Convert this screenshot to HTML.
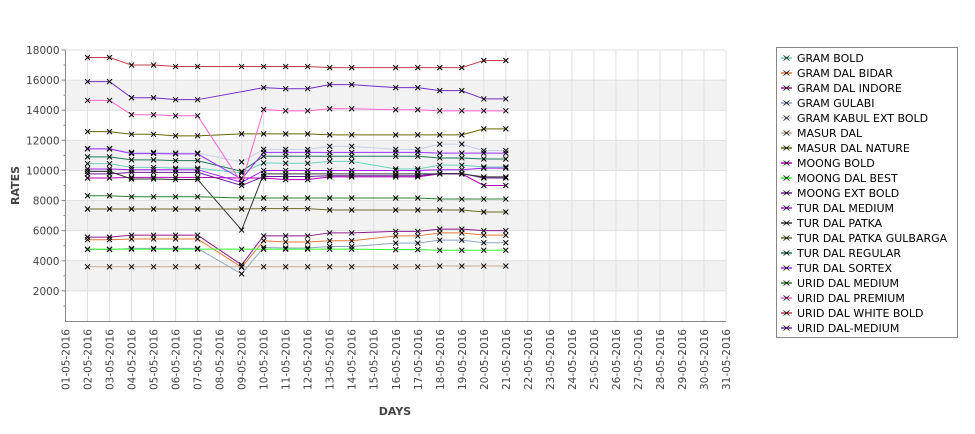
<!DOCTYPE html>
<html><head><meta charset="utf-8"><style>
body{margin:0;background:#fff;}
svg text{font-family:"DejaVu Sans","Liberation Sans",sans-serif;}
</style></head><body>
<svg id="chart" width="975" height="429" xmlns="http://www.w3.org/2000/svg">
<g id="bands"></g><g id="grid"></g><g id="axes"></g><g id="series"></g><g id="legend"></g>
</svg>
<script>
const days = [2,3,4,5,6,7,9,10,11,12,13,14,16,17,18,19,20,21];
const xTickLabels = Array.from({length:31},(_, i)=>String(i+1).padStart(2,'0')+'-05-2016');
const yTicks = [2000,4000,6000,8000,10000,12000,14000,16000,18000];
const seriesNames = ["GRAM BOLD","GRAM DAL BIDAR","GRAM DAL INDORE","GRAM GULABI","GRAM KABUL EXT BOLD","MASUR DAL","MASUR DAL NATURE","MOONG BOLD","MOONG DAL BEST","MOONG EXT BOLD","TUR DAL MEDIUM","TUR DAL PATKA","TUR DAL PATKA GULBARGA","TUR DAL REGULAR","TUR DAL SORTEX","URID DAL MEDIUM","URID DAL PREMIUM","URID DAL WHITE BOLD","URID DAL-MEDIUM"];
const seriesColors = ["#6fd1c0","#e07b39","#8b1a8b","#8fa5c0","#c8d0e8","#c8ab96","#666600","#b000b0","#33ff33","#6a1a9a","#a020f0","#333333","#6b6b2a","#1f7a5a","#9933ff","#2e7d32","#ff66cc","#c04050","#7030c0"];
const gramBold = [10450,10450,10200,10200,10150,10150,9830,10500,10480,10480,10600,10600,10100,10100,10350,10350,10230,10230];
const gramDalBidar = [5400,5400,5450,5450,5450,5450,3570,5330,5250,5250,5330,5330,5650,5650,5850,5850,5700,5700];
const gramDalIndore = [5570,5570,5700,5700,5700,5700,3730,5650,5650,5650,5850,5850,5950,5950,6100,6100,6000,6000];
const gramGulabi = [4750,4750,4820,4820,4820,4820,3130,4880,4850,4850,4950,4950,5170,5170,5370,5370,5200,5200];
const gramKabul = [11450,11450,11200,11200,11150,11150,10560,11400,11400,11400,11600,11600,11400,11400,11750,11750,11320,11320];
const masurDal = [3600,3600,3600,3600,3600,3600,3600,3600,3600,3600,3600,3600,3600,3600,3650,3650,3650,3650];
const masurDalNature = [12580,12580,12400,12400,12300,12300,12430,12430,12430,12430,12360,12360,12360,12360,12360,12360,12760,12760];
const moongBold = [9500,9500,9540,9540,9540,9540,9500,9500,9390,9390,9570,9570,9570,9570,9770,9770,9000,9000];
const moongDalBest = [4770,4770,4770,4770,4770,4770,4770,4770,4770,4770,4770,4770,4740,4740,4700,4700,4700,4700];
const moongExtBold = [9770,9770,9870,9870,9870,9870,9000,9600,9600,9600,9650,9650,9650,9650,9800,9800,9500,9500];
const turDalMedium = [10100,10100,10050,10050,10050,10050,9210,10000,10000,10000,10000,10000,10000,10000,10050,10050,10150,10150];
const turDalPatka = [9940,9940,9430,9430,9400,9400,6040,9770,9770,9770,9770,9770,9770,9770,9770,9770,9570,9570];
const turDalPatkaGulbarga = [7440,7440,7440,7440,7440,7440,7440,7460,7460,7460,7370,7370,7370,7370,7370,7370,7240,7240];
const turDalRegular = [10900,10900,10700,10700,10650,10650,9940,10940,10940,10940,10940,10940,10940,10940,10830,10830,10760,10760];
const turDalSortex = [11430,11430,11120,11120,11100,11100,9430,11200,11200,11200,11200,11200,11200,11200,11150,11150,11150,11150];
const uridDalMedium = [8320,8320,8250,8250,8250,8250,8170,8170,8170,8170,8170,8170,8170,8170,8100,8100,8100,8100];
const uridDalPremium = [14650,14650,13700,13700,13630,13630,9170,14050,13960,13960,14100,14100,14030,14030,13960,13960,13960,13960];
const uridDalWhiteBold = [17500,17500,17000,17000,16900,16900,16900,16900,16900,16900,16830,16830,16830,16830,16830,16830,17300,17300];
const uridDalMediumHyphen = [15900,15900,14830,14830,14700,14700,null,15500,15430,15430,15700,15700,15500,15500,15300,15300,14750,14750];
const seriesValues = [gramBold,gramDalBidar,gramDalIndore,gramGulabi,gramKabul,masurDal,masurDalNature,moongBold,moongDalBest,moongExtBold,turDalMedium,turDalPatka,turDalPatkaGulbarga,turDalRegular,turDalSortex,uridDalMedium,uridDalPremium,uridDalWhiteBold,uridDalMediumHyphen];

const NS='http://www.w3.org/2000/svg';
const L=65.5,R=726,T=50,B=321;
const xs=d=>L+(d-1)*(R-L)/30;
const ys=v=>B-v*(B-T)/18000;
function mk(tag,attrs,parent){const e=document.createElementNS(NS,tag);for(const k in attrs)e.setAttribute(k,attrs[k]);parent.appendChild(e);return e;}
const bands=document.getElementById('bands'),grid=document.getElementById('grid'),axes=document.getElementById('axes'),ser=document.getElementById('series'),leg=document.getElementById('legend');
mk('rect',{x:L,y:T,width:R-L,height:B-T,fill:'#fff'},bands);
for(let v=2000;v<18000;v+=4000){const r=mk('rect',{x:L,y:ys(v+2000),width:R-L,height:ys(v)-ys(v+2000),fill:'#f2f2f2'},bands);

}
for(let d=2;d<=31;d++){mk('line',{x1:xs(d),x2:xs(d),y1:T,y2:B,stroke:'#e0e0e0','stroke-width':1},grid);}
yTicks.forEach(v=>{mk('line',{x1:L,x2:R,y1:ys(v),y2:ys(v),stroke:'#e0e0e0','stroke-width':1},grid);});
mk('line',{x1:L,x2:L,y1:T,y2:B+1,stroke:'#888'},axes);
mk('line',{x1:L,x2:R,y1:B+0.5,y2:B+0.5,stroke:'#888'},axes);
for(let v=1000;v<=18000;v+=1000){const major=v%2000===0;mk('line',{x1:L-(major?4:2),x2:L,y1:ys(v),y2:ys(v),stroke:'#888'},axes);}
yTicks.forEach(v=>{const t=mk('text',{x:L-6,y:ys(v)+4,'text-anchor':'end','font-size':10.5,fill:'#444'},axes);t.textContent=v;

});
xTickLabels.forEach((lab,i)=>{const x=xs(i+1);const t=mk('text',{transform:`translate(${x+4},${B+8}) rotate(-90)`,'text-anchor':'end','font-size':10.5,fill:'#444'},axes);t.textContent=lab;

});
const xt=mk('text',{x:395,y:415,'text-anchor':'middle','font-size':11,'font-weight':'bold',fill:'#444'},axes);xt.textContent='DAYS';


const yt=mk('text',{transform:`translate(19,${(T+B)/2}) rotate(-90)`,'text-anchor':'middle','font-size':11,'font-weight':'bold',fill:'#444'},axes);yt.textContent='RATES';


function cross(x,y,p){mk('path',{d:`M${x-2.5},${y-2.5}L${x+2.5},${y+2.5}M${x-2.5},${y+2.5}L${x+2.5},${y-2.5}`,stroke:'#000','stroke-width':1},p);}
seriesValues.forEach((vals,si)=>{
 const g=mk('g',{},ser);
 
 
 const pts=[];vals.forEach((v,i)=>{if(v!==null)pts.push([xs(days[i]),ys(v)]);});
 mk('polyline',{points:pts.map(p=>p.join(',')).join(' '),fill:'none',stroke:seriesColors[si],'stroke-width':1},g);
 pts.forEach(p=>cross(p[0],p[1],g));
});
const box=mk('rect',{x:776.5,y:47.5,width:181,height:290,fill:'#fff',stroke:'#888'},leg);


seriesNames.forEach((n,i)=>{const y=58+15*i;const g=mk('g',{},leg);
 
 
 mk('line',{x1:781,x2:792,y1:y,y2:y,stroke:seriesColors[i],'stroke-width':1.5},g);
 mk('path',{d:`M${783.5},${y-2.5}L${789.5},${y+2.5}M${783.5},${y+2.5}L${789.5},${y-2.5}`,stroke:'#000','stroke-width':0.8},g);
 const t=mk('text',{x:797,y:y+4,'font-size':11,fill:'#000'},g);t.textContent=n;});
</script>
</body></html>
